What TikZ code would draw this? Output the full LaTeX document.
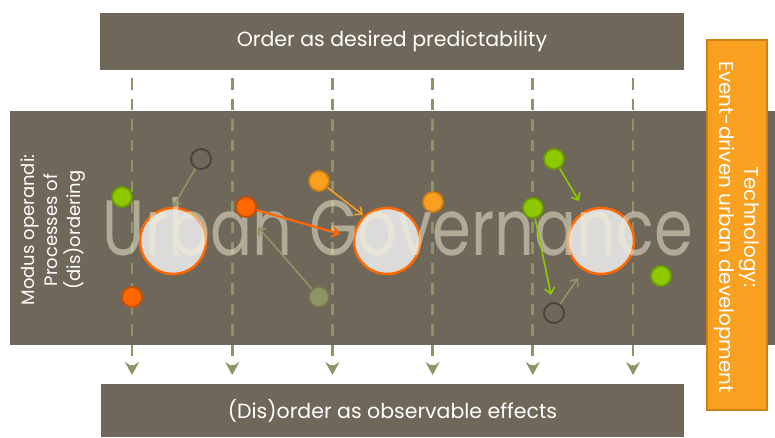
\documentclass[tikz,border=0pt]{standalone}
\usepackage{fontspec}
\setmainfont{Poppins}
\usetikzlibrary{arrows.meta}

\definecolor{band}{RGB}{111,103,89}
\definecolor{olive}{RGB}{142,148,100}
\definecolor{discfill}{RGB}{221,219,217}
\definecolor{hot}{RGB}{255,104,0}
\definecolor{hotdark}{RGB}{200,80,0}
\definecolor{amber}{RGB}{249,160,32}
\definecolor{amberdark}{RGB}{205,128,20}
\definecolor{lime}{RGB}{141,200,0}
\definecolor{limedark}{RGB}{108,156,0}
\definecolor{olivedark}{RGB}{112,120,80}
\definecolor{ring}{RGB}{72,67,60}
\definecolor{ugtext}{RGB}{240,240,214}

\tikzset{
  panel/.style={fill=band, draw=none, inner sep=0pt, text=white},
  flowline/.style={draw=olive, line width=2.8pt, dash pattern=on 11.5pt off 9pt,
    -{Stealth[length=13pt,width=14pt,inset=4.5pt]}},
  bigdisc/.style={circle, fill=discfill, draw=hot, line width=2.5pt,
    minimum size=66pt, inner sep=0pt},
  dot/.style={circle, minimum size=20pt, inner sep=0pt, line width=1.8pt},
  limedot/.style={dot, fill=lime, draw=limedark},
  hotdot/.style={dot, fill=hot, draw=hotdark},
  amberdot/.style={dot, fill=amber, draw=amberdark},
  olivedot/.style={dot, fill=olive, draw=olivedark},
  ringdot/.style={dot, draw=ring},
  pull/.style={-{Straight Barb[length=6pt,width=10pt]}, line width=1.6pt},
}

\begin{document}
\begin{tikzpicture}[x=1pt,y=-1pt]
\useasboundingbox (0,0) rectangle (775,437);

% central band and the two outer bars
\node[panel, minimum width=765pt, minimum height=234pt] (band) at (392.5,228) {};
\node[panel, minimum width=584pt, minimum height=57pt,
  font=\fontsize{20.5}{24}\selectfont] (order) at (392,41) {Order as desired predictability};
\node[panel, minimum width=583pt, minimum height=53pt,
  font=\fontsize{20.5}{24}\selectfont] (disorder) at (392.5,410.5) {(Dis)order as observable effects};

% dashed flows from top to bottom
\foreach \i in {0,...,5}{
  \coordinate (s\i) at (132+100.2*\i,78);
  \coordinate (e\i) at (132+100.2*\i,375);
  \draw[flowline] (s\i) -- (e\i);
}

% large discs
\node[bigdisc] (g1) at (173,241) {};
\node[bigdisc] (g2) at (387,241) {};
\node[bigdisc] (g3) at (601,241) {};

% title word mark
\node[text=ugtext, text opacity=0.5, inner sep=0pt, anchor=base] (ug) at (398,255)
  {\resizebox{590pt}{58pt}{\fontsize{78}{80}\selectfont Urban Governance}};

% small actors
\node[ringdot]  (r1) at (201,159) {};
\node[limedot]  (l1) at (122,197) {};
\node[hotdot]   (h1) at (132,297) {};
\node[hotdot]   (h2) at (246,207) {};
\node[amberdot] (a1) at (319,181) {};
\node[amberdot] (a2) at (433,202) {};
\node[olivedot] (o1) at (319,297) {};
\node[limedot]  (l2) at (554,159) {};
\node[limedot]  (l3) at (533,208) {};
\node[limedot]  (l4) at (661,276) {};
\node[ringdot]  (r2) at (554,313) {};

% free ends of the pulls
\coordinate (p1) at (173,207);
\coordinate (p2) at (363,215);
\coordinate (p3) at (340,234);
\coordinate (p4) at (258,227);
\coordinate (p5) at (579,201);
\coordinate (p6) at (551,295);
\coordinate (p7) at (578,278);

\draw[pull, olive] (r1) -- (p1);
\draw[pull, amber] (a1) -- (p2);
\draw[pull, hot, line width=2.2pt] (h2) -- (p3);
\draw[pull, olive] (o1) -- (p4);
\draw[pull, lime] (l2) -- (p5);
\draw[pull, lime] (l3) -- (p6);
\draw[pull, olive] (r2) -- (p7);

% side labels
\node[rotate=90, align=center, text=white, inner sep=0pt,
  font=\fontsize{18}{23}\selectfont] (modus) at (53,230)
  {Modus operandi:\\Processes of\\(dis)ordering};

\node[fill=amber, draw=amberdark, line width=1.2pt, minimum width=60pt,
  minimum height=370pt, inner sep=0pt] (techbox) at (737,225) {};
\node[rotate=-90, align=center, text=white, inner sep=0pt,
  font=\fontsize{20}{25}\selectfont] (tech) at (737,227)
  {Technology:\\Event-driven urban development};
\end{tikzpicture}
\end{document}
